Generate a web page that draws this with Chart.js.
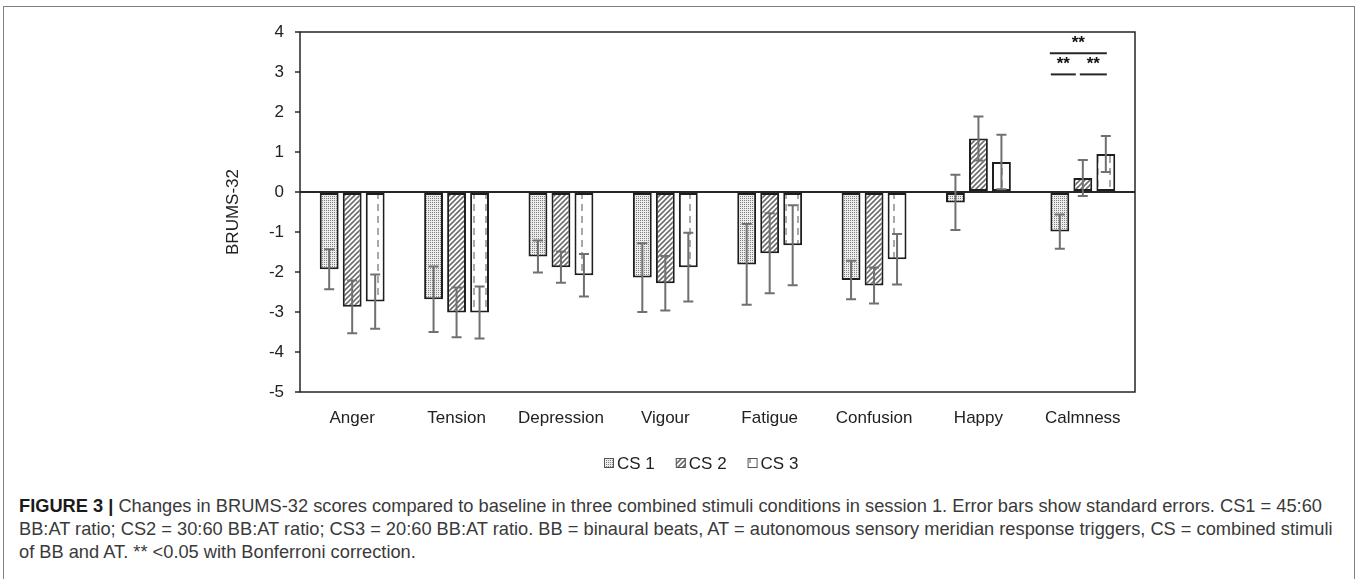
<!DOCTYPE html>
<html>
<head>
<meta charset="utf-8">
<script src="https://cdn.jsdelivr.net/npm/chart.js@4.4.1/dist/chart.umd.min.js"></script>
<style>
    body { margin: 0; background: #fff; width: 1358px; height: 579px; overflow: hidden; position: relative; }
    #frame { position: absolute; left: 3px; top: 6px; width: 1350px; height: 600px; border: 1px solid #808080; border-bottom: none; }
    #chart { position: absolute; left: 0; top: 0; }
    #caption { position: absolute; left: 19px; top: 494px; font-family: "Liberation Sans", Arial, sans-serif; color: #3a3a3a; line-height: 23px; white-space: nowrap; }
    #caption b { color: #1a1a1a; }
</style>
</head>
<body>
<div id="frame"></div>
<canvas id="chart" width="1358" height="480"></canvas>
<div id="caption">
    <div id="capLine1"><b>FIGURE 3 |</b> Changes in BRUMS-32 scores compared to baseline in three combined stimuli conditions in session 1. Error bars show standard errors. CS1 = 45:60</div>
    <div>BB:AT ratio; CS2 = 30:60 BB:AT ratio; CS3 = 20:60 BB:AT ratio. BB = binaural beats, AT = autonomous sensory meridian response triggers, CS = combined stimuli</div>
    <div>of BB and AT. ** &lt;0.05 with Bonferroni correction.</div>
</div>
<script>
// data
const categories = ['Anger', 'Tension', 'Depression', 'Vigour', 'Fatigue', 'Confusion', 'Happy', 'Calmness'];
const seriesNames = ['CS 1', 'CS 2', 'CS 3'];
const cs1Values = [-1.93, -2.68, -1.61, -2.14, -1.81, -2.20, -0.26, -0.99];
const cs2Values = [-2.87, -3.01, -1.88, -2.28, -1.53, -2.34, 1.34, 0.35];
const cs3Values = [-2.74, -3.01, -2.08, -1.88, -1.33, -1.68, 0.75, 0.95];
const cs1Errors = [0.50, 0.82, 0.40, 0.86, 1.01, 0.48, 0.69, 0.43];
const cs2Errors = [0.66, 0.62, 0.39, 0.68, 1.00, 0.45, 0.55, 0.45];
const cs3Errors = [0.68, 0.65, 0.53, 0.86, 1.00, 0.63, 0.68, 0.45];
const yTicks = [-5, -4, -3, -2, -1, 0, 1, 2, 3, 4];

// significance brackets on Calmness: [from series, to series, level]
const sigCategory = 7;
const sigPairs = [[0, 2, 3.47], [0, 1, 2.94], [1, 2, 2.94]];

const FONT = '"Liberation Sans", Arial, sans-serif';

function makePattern(w, h, draw) {
    const c = document.createElement('canvas');
    c.width = w;
    c.height = h;
    const g = c.getContext('2d');
    g.fillStyle = '#fff';
    g.fillRect(0, 0, w, h);
    draw(g);
    return g.createPattern(c, 'repeat');
}

// dotted fill
const dotFill = makePattern(4, 4, g => {
    g.fillStyle = '#ececec';
    g.fillRect(0, 0, 4, 4);
    g.fillStyle = '#808080';
    g.fillRect(0, 0, 1, 1);
    g.fillRect(2, 2, 1, 1);
    g.fillRect(2, 0, 1, 1);
    g.fillRect(0, 2, 1, 1);
});
// diagonal stripes
const stripeFill = makePattern(5, 5, g => {
    g.strokeStyle = '#6e6e6e';
    g.lineWidth = 1.6;
    g.beginPath();
    g.moveTo(-1, 6); g.lineTo(6, -1);
    g.moveTo(-1, 1); g.lineTo(1, -1);
    g.moveTo(4, 6); g.lineTo(6, 4);
    g.stroke();
});
// dashed vertical lines
const dashFill = makePattern(12, 12, g => {
    g.strokeStyle = '#8c8c8c';
    g.lineWidth = 1.5;
    g.beginPath();
    g.moveTo(6, 0); g.lineTo(6, 7);
    g.stroke();
});

const values = [cs1Values, cs2Values, cs3Values];
const errors = [cs1Errors, cs2Errors, cs3Errors];
const fills = [dotFill, stripeFill, dashFill];

const extrasPlugin = {
    id: 'extras',
    afterDatasetsDraw(chart) {
        const ctx = chart.ctx;
        const y = chart.scales.y;
        const area = chart.chartArea;

        // plot frame
        ctx.save();
        ctx.strokeStyle = '#262626';
        ctx.lineWidth = 1.5;
        ctx.strokeRect(area.left, area.top, area.right - area.left, area.bottom - area.top);

        // error bars
        ctx.strokeStyle = '#707070';
        ctx.lineWidth = 2;
        for (let d = 0; d < values.length; d++) {
            const meta = chart.getDatasetMeta(d);
            meta.data.forEach((bar, i) => {
                const v = values[d][i];
                const e = errors[d][i];
                const x = bar.x;
                const yTop = y.getPixelForValue(v + e);
                const yBot = y.getPixelForValue(v - e);
                ctx.beginPath();
                ctx.moveTo(x, yTop); ctx.lineTo(x, yBot);
                ctx.moveTo(x - 5, yTop); ctx.lineTo(x + 5, yTop);
                ctx.moveTo(x - 5, yBot); ctx.lineTo(x + 5, yBot);
                ctx.stroke();
            });
        }

        // significance
        ctx.strokeStyle = '#262626';
        ctx.fillStyle = '#111';
        ctx.lineWidth = 2;
        ctx.font = 'bold 17px ' + FONT;
        ctx.textAlign = 'center';
        ctx.textBaseline = 'middle';
        sigPairs.forEach(([a, b, level]) => {
            const barA = chart.getDatasetMeta(a).data[sigCategory];
            const barB = chart.getDatasetMeta(b).data[sigCategory];
            const x1 = b - a === 2 ? barA.x - 10 : barA.x - 9 + (a * 6);
            const x2 = barB.x + (b === 2 ? 1 : -7);
            const ly = y.getPixelForValue(level);
            ctx.beginPath();
            ctx.moveTo(x1, ly); ctx.lineTo(x2, ly);
            ctx.stroke();
            ctx.fillText('**', (x1 + x2) / 2, ly - 10);
        });
        ctx.restore();
    },
    afterDraw(chart) {
        // legend under the axis
        const ctx = chart.ctx;
        ctx.save();
        ctx.font = '17px ' + FONT;
        ctx.textBaseline = 'middle';
        ctx.textAlign = 'left';
        let x = 604;
        const ly = 463;
        chart.data.datasets.forEach(ds => {
            ctx.fillStyle = ds.backgroundColor;
            ctx.fillRect(x, ly - 5, 10, 10);
            ctx.strokeStyle = '#555';
            ctx.lineWidth = 1;
            ctx.strokeRect(x + 0.5, ly - 4.5, 9, 9);
            ctx.fillStyle = '#222';
            ctx.fillText(ds.label, x + 13, ly + 1);
            x += 13 + ctx.measureText(ds.label).width + 21;
        });
        ctx.restore();
    }
};

const ctx = document.getElementById('chart').getContext('2d');
const chart = new Chart(ctx, {
    type: 'bar',
    data: {
        labels: categories,
        datasets: values.map((v, d) => ({
            label: seriesNames[d],
            data: v,
            backgroundColor: fills[d],
            borderColor: '#1e1e1e',
            borderWidth: 2,
            borderSkipped: false,
            barPercentage: 0.82,
            categoryPercentage: 0.661
        }))
    },
    options: {
        responsive: false,
        animation: false,
        layout: { padding: { left: 215, right: 223, top: 32, bottom: 38 } },
        plugins: {
            tooltip: { enabled: false },
            legend: { display: false }
        },
        scales: {
            x: {
                grid: { display: false, drawTicks: false, tickLength: 0 },
                border: { display: false },
                ticks: { color: '#222', font: { size: 17, family: FONT }, padding: 16 },
                afterFit(scale) { scale.height = 50; }
            },
            y: {
                min: -5,
                max: 4,
                afterBuildTicks(scale) { scale.ticks = yTicks.map(v => ({ value: v })); },
                ticks: { color: '#222', font: { size: 17, family: FONT }, padding: 11 },
                grid: {
                    color: c => (c.tick && c.tick.value === 0 ? '#262626' : 'rgba(0,0,0,0)'),
                    lineWidth: 2,
                    tickLength: 5,
                    tickColor: '#262626',
                    tickWidth: 1.5
                },
                border: { display: false },
                title: { display: true, text: 'BRUMS-32', color: '#222', font: { size: 17, family: FONT }, padding: { top: 8 } },
                afterFit(scale) { scale.width = 85; }
            }
        }
    },
    plugins: [extrasPlugin]
});

// fit the caption's first line to the figure width
const line1 = document.getElementById('capLine1');
const cap = document.getElementById('caption');
let size = 17;
cap.style.fontSize = size + 'px';
size = size * 1314 / line1.getBoundingClientRect().width;
cap.style.fontSize = size.toFixed(2) + 'px';
</script>
</body>
</html>
